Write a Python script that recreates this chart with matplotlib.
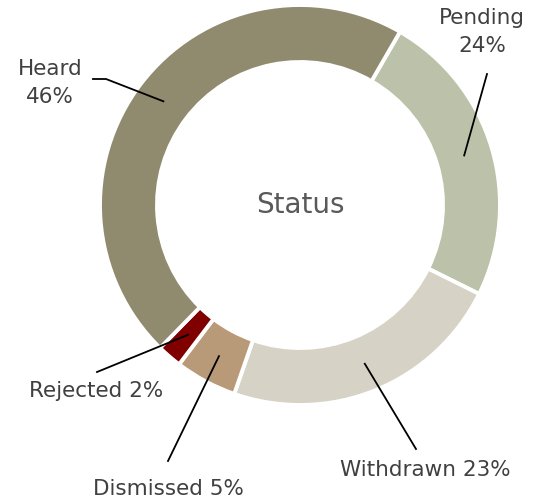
import numpy as np
import matplotlib.pyplot as plt

labels = ['Pending', 'Withdrawn', 'Dismissed', 'Rejected', 'Heard']
values = [24, 23, 5, 2, 46]
colors = ['#BCC2A9', '#D6D3C6', '#B89A78', '#800000', '#908A6E']

# label text placement (pixels from top-left) and the elbow of each leader line
text_pos = {'Pending': (482, 32), 'Withdrawn': (425, 470), 'Dismissed': (168, 489),
            'Rejected': (96, 391), 'Heard': (50, 83)}
line_start = {'Pending': (487, 74), 'Withdrawn': (416, 449), 'Dismissed': (168, 461),
              'Rejected': (97, 372), 'Heard': [(93, 79), (106, 79)]}
label_txt = {'Pending': 'Pending\n24%', 'Withdrawn': 'Withdrawn 23%', 'Dismissed': 'Dismissed 5%',
             'Rejected': 'Rejected 2%', 'Heard': 'Heard\n46%'}

W, H = 546, 498
fig = plt.figure(figsize=(W / 100, H / 100), dpi=100)
ax = fig.add_axes([0, 0, 1, 1])

cx, cy, R = 300, H - 205, 200
width = 57
wedges, _ = ax.pie(values, colors=colors, startangle=60, counterclock=False,
                   center=(cx, cy), radius=R, frame=True,
                   wedgeprops=dict(width=width, edgecolor='white', linewidth=2.8))
ax.set_xlim(0, W)
ax.set_ylim(0, H)
ax.set_aspect('equal')
ax.axis('off')

ax.text(cx, cy, 'Status', ha='center', va='center', fontsize=20, color='#595959')

rm = R - width / 2
for w, lab in zip(wedges, labels):
    th = np.deg2rad((w.theta1 + w.theta2) / 2)
    px, py = cx + rm * np.cos(th), cy + rm * np.sin(th)
    st = line_start[lab]
    if isinstance(st, list):
        xs = [p[0] for p in st] + [px]
        ys = [H - p[1] for p in st] + [py]
    else:
        xs = [st[0], px]
        ys = [H - st[1], py]
    ax.plot(xs, ys, color='black', lw=1.3)
    tx, ty = text_pos[lab]
    ax.text(tx, H - ty, label_txt[lab], ha='center', va='center', fontsize=15.5,
            color='#404040', linespacing=1.45)

fig.savefig('out.png', dpi=100)
